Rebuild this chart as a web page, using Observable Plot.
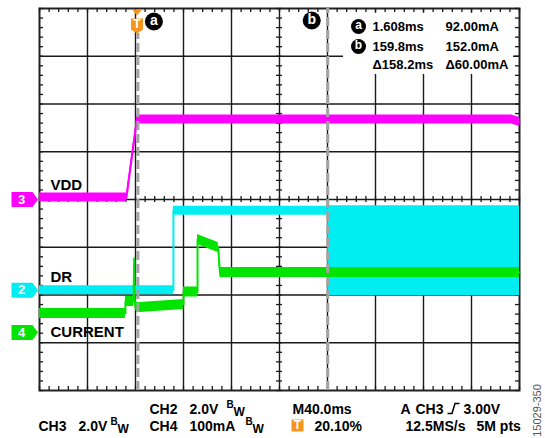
<!DOCTYPE html>
<html><head><meta charset="utf-8">
<script src="https://cdn.jsdelivr.net/npm/d3@7"></script>
<script src="https://cdn.jsdelivr.net/npm/@observablehq/plot@0.6"></script>
<style>body{margin:0;background:#fff;font-family:"Liberation Sans",Arial,sans-serif}</style>
</head><body><div id="chart"></div>
<script>
// ---- scope settings ----
const timePerDiv = 40;          // ms / div  (M40.0ms)
const triggerFrac = 0.201;      // T 20.10%
const tStart = -triggerFrac * 10 * timePerDiv;
const tEnd = tStart + 10 * timePerDiv;
const tMid = tStart + 5 * timePerDiv;

// channels
const chNames   = ["VDD", "DR", "CURRENT"];
const chNumbers = ["3", "2", "4"];
const chColors  = ["#ff00ff", "#00eef2", "#00e400"];
const chPerDiv  = [2, 2, 100];          // V/div, V/div, mA/div
const chOffset  = [4.0, 2.1, 1.215];    // ground marker, divisions from bottom

// ---- waveform data ----
// CH3 VDD (V)
const vddTime  = [tStart, -7.9, 0.8, 313, tEnd];
const vddVolts = [0.08, 0.08, 3.35, 3.35, 3.25];
// CH2 DR (V)
const drTime  = [tStart, 31.2, 31.2, 159.8];
const drVolts = [0, 0, 3.33, 3.33];
// CH2 DR switching burst after cursor b (V envelope)
const burstTime = [159.8, tEnd];
const burstLow  = [-0.23, -0.23];
const burstHigh = [3.54, 3.54];
// CH4 CURRENT (mA)
const curTime = [tStart, -8.8, -8.8, -2.0, -1.5, -1.0, 0.8, 39.6, 39.6, 51.3, 51.3, 57, 63, 68.5, 70, tEnd];
const curMA   = [39.8, 39.8, 65, 65, 155, 62, 52, 58.6, 84.8, 84.8, 194.8, 189, 183, 178, 125.7, 125.7];

// cursors
const cursorA = 1.608, cursorB = 159.8;
const readout = [["1.608ms", "92.00mA"], ["159.8ms", "152.0mA"], ["Δ158.2ms", "Δ60.00mA"]];

// ---- helpers ----
const W = 545, H = 438, mL = 39, mR = 26, mT = 8, mB = 48;
const pxY = (H - mT - mB) / 8;                 // px per vertical div
const pxT = (W - mL - mR) / (10 * timePerDiv); // px per ms
const recs = (ts, vs) => ts.map((t, i) => ({t, v: vs[i]}));
const vdd = recs(vddTime, vddVolts), dr = recs(drTime, drVolts), cur = recs(curTime, curMA);
const burst = burstTime.map((t, i) => ({t, lo: burstLow[i], hi: burstHigh[i]}));
const toDiv = (c) => (v) => chOffset[c] + v / chPerDiv[c];

function trace(data, c, halfPx) {
  const f = toDiv(c), hw = halfPx / pxY;
  return [
    Plot.areaY(data, {x: "t", y1: d => f(d.v) - hw, y2: d => f(d.v) + hw, fill: chColors[c]}),
    Plot.line(data, {x: "t", y: d => f(d.v), stroke: chColors[c], strokeWidth: 2})
  ];
}
const font = "Liberation Sans, Arial, sans-serif";
function label(str, px, py, o = {}) {
  return Plot.text([str], {text: d => d, frameAnchor: "top-left", dx: px - mL, dy: py - mT,
    textAnchor: "start", lineAnchor: "middle", fontWeight: "bold", fontSize: 14, fill: "#000", fontFamily: font, ...o});
}
function bw(px, py) {
  return [label("B", px, py - 5, {fontSize: 10}), label("W", px + 7, py + 3, {fontSize: 12})];
}

const gridT = d3.range(1, 10).map(i => tStart + i * timePerDiv);
const minorT = d3.range(0, 51).map(i => tStart + i * timePerDiv / 5);
const minorY = d3.range(0, 41).map(i => i / 5);
const tickL = 4 / pxY, tickLt = 4 / pxT, cTickL = 3 / pxY, cTickLt = 3 / pxT;

const markerSym = {draw(ctx) { ctx.moveTo(-13, -7.5); ctx.lineTo(8, -7.5); ctx.lineTo(13.5, 0); ctx.lineTo(8, 7.5); ctx.lineTo(-13, 7.5); ctx.closePath(); }};
const trigSym = {draw(ctx) { ctx.moveTo(-5, 1); ctx.lineTo(5, 1); ctx.lineTo(0, 7); ctx.closePath();
  ctx.moveTo(-6, 10); ctx.lineTo(6, 10); ctx.lineTo(6, 21); ctx.lineTo(0, 25); ctx.lineTo(-6, 21); ctx.closePath(); }};
const boxSym = {draw(ctx) { ctx.rect(-6, -6, 12, 12); }};
const slopeSym = {draw(ctx) { ctx.moveTo(-6, 5); ctx.lineTo(-1.5, 5); ctx.lineTo(1.5, -5); ctx.lineTo(6, -5); }};
const orange = "#f7941d";
const grid = "#1a1a1a";
const chIdx = [0, 1, 2];

const plot = Plot.plot({
  width: W, height: H, marginLeft: mL, marginRight: mR, marginTop: mT, marginBottom: mB,
  x: {domain: [tStart, tEnd], axis: null},
  y: {domain: [0, 8], axis: null},
  color: {type: "identity"},
  style: {fontFamily: font, background: "#fff"},
  marks: [
    // graticule
    Plot.ruleX(gridT, {y1: 0, y2: 8, stroke: grid, strokeWidth: 1.4}),
    Plot.ruleY(d3.range(1, 8), {x1: tStart, x2: tEnd, stroke: grid, strokeWidth: 1.4}),
    // cursor readout panel
    Plot.rect([0], {x1: 172.9, x2: 314.6, y1: 6.62, y2: 7.9, fill: "#fff"}),
    Plot.frame({stroke: "#222", strokeWidth: 2}),
    Plot.ruleX(minorT, {y1: 8 - tickL, y2: 8, stroke: grid, strokeWidth: 1.3}),
    Plot.ruleX(minorT, {y1: 0, y2: tickL, stroke: grid, strokeWidth: 1.3}),
    Plot.ruleY(minorY, {x1: tStart, x2: tStart + tickLt, stroke: grid, strokeWidth: 1.3}),
    Plot.ruleY(minorY, {x1: tEnd - tickLt, x2: tEnd, stroke: grid, strokeWidth: 1.3}),
    Plot.ruleX(minorT, {y1: 4 - cTickL, y2: 4 + cTickL, stroke: grid, strokeWidth: 1.3}),
    Plot.ruleY(minorY, {x1: tMid - cTickLt, x2: tMid + cTickLt, stroke: grid, strokeWidth: 1.3}),
    // traces
    ...trace(vdd, 0, 4.5),
    ...trace(dr, 1, 4.5),
    Plot.areaY(burst, {x: "t", y1: d => toDiv(1)(d.lo), y2: d => toDiv(1)(d.hi), fill: chColors[1]}),
    ...trace(cur, 2, 5),
    // cursors
    Plot.ruleX([cursorA], {y1: 0, y2: 8 - 25 / pxY, stroke: "#a3a3a3", strokeWidth: 3, strokeDasharray: "9,4"}),
    Plot.ruleX([cursorB], {y1: 0, y2: 8, stroke: "#a3a3a3", strokeWidth: 3, strokeDasharray: "9,4"}),
    // trigger marker
    Plot.dot([0], {x: d => d, y: () => 8, dx: 1, symbol: trigSym, fill: orange, stroke: "none"}),
    Plot.text(["T"], {x: () => 0, y: () => 8, dx: 1, dy: 16, text: d => d, fill: "#fff", fontWeight: "bold", fontSize: 12}),
    // cursor badges
    Plot.dot([cursorA], {x: d => d, y: () => 8, dx: 16, dy: 13, r: 9, fill: "#000"}),
    Plot.text(["a"], {x: () => cursorA, y: () => 8, dx: 16, dy: 12, text: d => d, fill: "#fff", fontWeight: "bold", fontSize: 14}),
    Plot.dot([cursorB], {x: d => d, y: () => 8, dx: -16, dy: 12, r: 9, fill: "#000"}),
    Plot.text(["b"], {x: () => cursorB, y: () => 8, dx: -16, dy: 11, text: d => d, fill: "#fff", fontWeight: "bold", fontSize: 14}),
    // readout
    ...["a", "b"].flatMap((s, i) => [
      Plot.dot([s], {frameAnchor: "top-left", dx: 358 - mL, dy: [26, 46][i] - mT, r: 7.5, fill: "#000"}),
      label(s, 358, [25, 45][i], {fill: "#fff", fontSize: 12, textAnchor: "middle"})
    ]),
    ...readout.flatMap((row, i) => [
      label(row[0], 372, [26, 46, 64][i], {fontSize: 13}),
      label(row[1], 445, [26, 46, 64][i], {fontSize: 13})
    ]),
    // channel markers
    Plot.dot(chIdx, {x: () => tStart, y: i => chOffset[i], dx: -15, symbol: markerSym, fill: i => chColors[i], stroke: "none"}),
    Plot.text(chIdx, {x: () => tStart, y: i => chOffset[i], dx: -18, text: i => chNumbers[i], fill: "#fff", fontWeight: "bold", fontSize: 13}),
    label(chNames[0], 50, 185, {fontSize: 15}),
    label(chNames[1], 50, 277, {fontSize: 15}),
    label(chNames[2], 50, 332, {fontSize: 15}),
    // footer
    label("CH2", 149, 409), label("2.0V", 189, 409), ...bw(226, 409),
    label("M40.0ms", 292, 409),
    label("A", 400, 409), label("CH3", 415, 409),
    Plot.dot([0], {frameAnchor: "top-left", dx: 453 - mL, dy: 408 - mT, symbol: slopeSym, fill: "none", stroke: "#000", strokeWidth: 1.5}),
    label("3.00V", 463, 409),
    label("CH3", 38, 426), label("2.0V", 78, 426), ...bw(110, 426),
    label("CH4", 149, 426), label("100mA", 189, 426), ...bw(245, 426),
    Plot.dot([0], {frameAnchor: "top-left", dx: 297 - mL, dy: 425 - mT, symbol: boxSym, fill: orange, stroke: "none"}),
    label("T", 297, 425, {fill: "#fff", fontSize: 12, textAnchor: "middle"}),
    label("20.10%", 314, 426),
    label("12.5MS/s", 405, 426), label("5M pts", 476, 426),
    Plot.text(["15029-350"], {text: d => d, frameAnchor: "top-left", dx: 537 - mL, dy: 410 - mT, rotate: -90,
      textAnchor: "middle", lineAnchor: "middle", fontSize: 11, fill: "#555", fontFamily: font})
  ]
});
document.getElementById("chart").appendChild(plot);
</script>
</body></html>
